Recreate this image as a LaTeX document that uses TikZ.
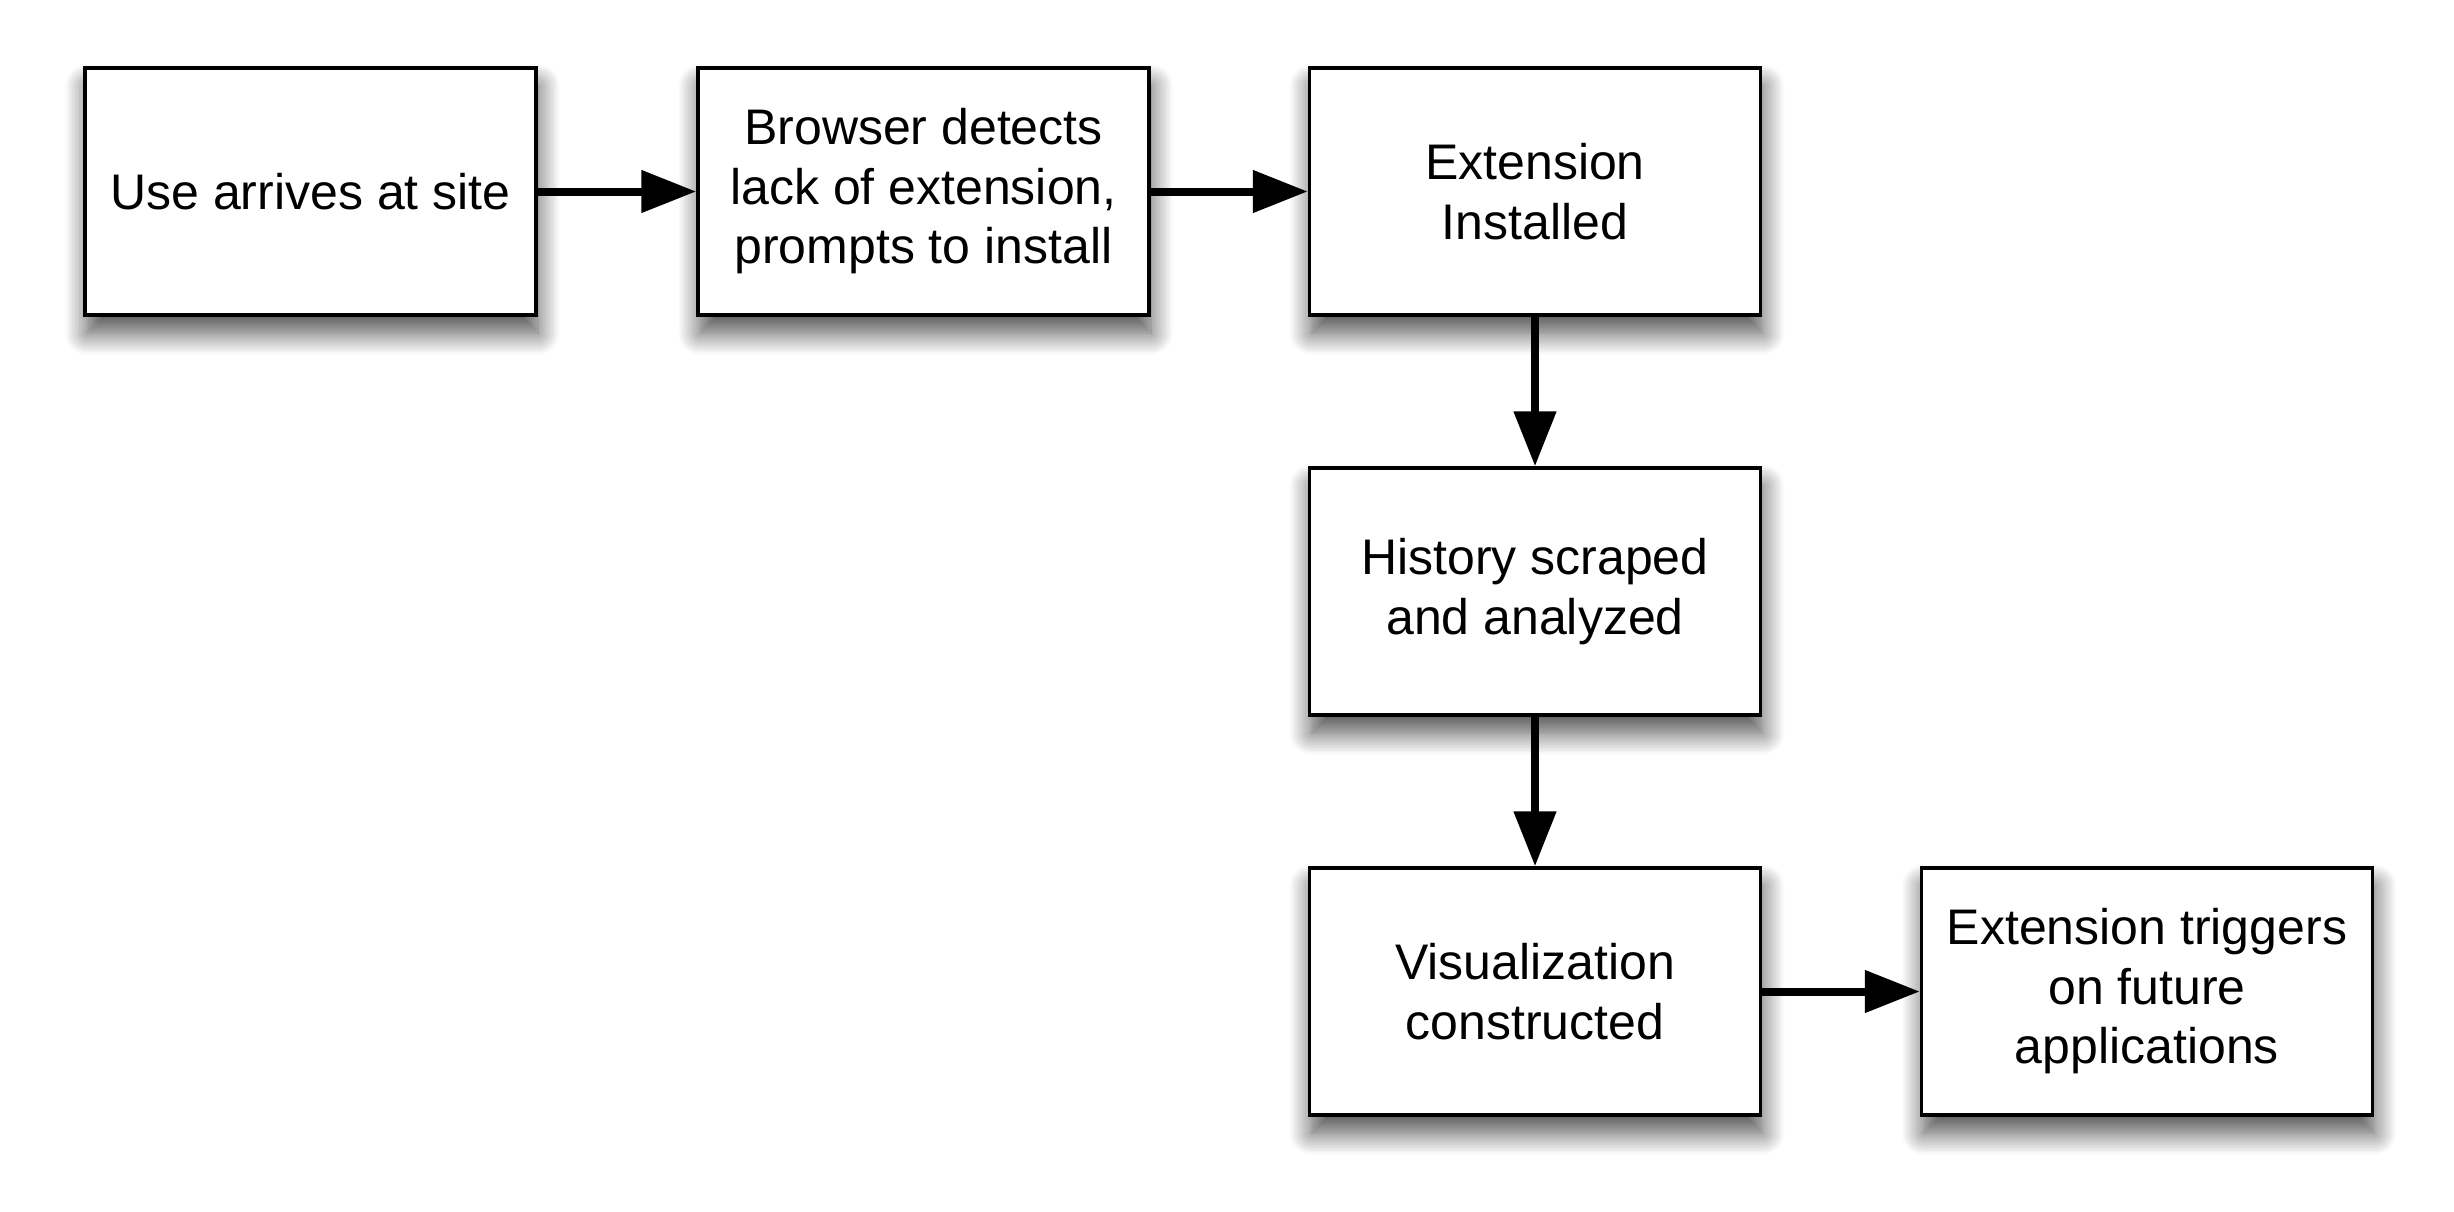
\documentclass[tikz,border=0pt]{standalone}
\usepackage{fontspec}
\setmainfont{Liberation Sans}
\usetikzlibrary{arrows.meta,shadows.blur}
\begin{document}
\begin{tikzpicture}[x=1pt,y=-1pt,
  stepbox/.style={draw=black, line width=3.5pt, fill=white,
    minimum width=451pt, minimum height=247pt, inner sep=0pt, align=center,
    font=\fontsize{50}{59.5}\selectfont,
    blur shadow={shadow xshift=2pt, shadow yshift=-18pt, shadow blur radius=22pt, shadow blur steps=16, shadow opacity=70}},
  flow/.style={line width=8pt, -{Triangle[length=55pt,width=41pt]}}
]
\useasboundingbox (0,0) rectangle (2454,1212);
\node[stepbox] (a) at (310.5,191.5) {Use arrives at site};
\node[stepbox] (b) at (923.5,191.5) {Browser detects\\lack of extension,\\prompts to install};
\node[stepbox] (c) at (1535,191.5) {Extension\\Installed};
\node[stepbox] (d) at (1535,591.5) {History scraped\\and analyzed};
\node[stepbox] (e) at (1535,991.5) {Visualization\\constructed};
\node[stepbox] (f) at (2147,991.5) {Extension triggers\\on future\\applications};
\draw[flow] (a) -- (b);
\draw[flow] (b) -- (c);
\draw[flow] (c) -- (d);
\draw[flow] (d) -- (e);
\draw[flow] (e) -- (f);
\end{tikzpicture}
\end{document}
